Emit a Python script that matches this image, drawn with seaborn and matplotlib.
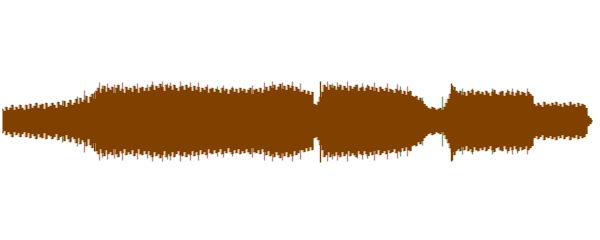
import numpy as np
import pandas as pd
import matplotlib
matplotlib.use("Agg")
import matplotlib.pyplot as plt
import seaborn as sns

# Peak amplitude of the mix, one value every 2 columns
env_amp = [12, 10, 14, 11, 13, 16, 11, 14, 12, 16, 13, 11,
           16, 12, 17, 13, 15, 18, 13, 16, 17, 12, 18, 14,
           15, 18, 16, 13, 19, 16, 15, 20, 14, 18, 21, 16,
           18, 22, 17, 23, 19, 21, 25, 18, 24, 27, 22, 30,
           33, 28, 32, 35, 29, 33, 31, 34, 28, 33, 36, 30,
           32, 28, 34, 31, 33, 29, 35, 32, 28, 33, 34, 30,
           33, 30, 34, 36, 31, 35, 33, 37, 34, 30, 36, 33,
           35, 31, 36, 33, 30, 34, 35, 31, 36, 33, 34, 30,
           35, 31, 34, 29, 33, 31, 34, 28, 32, 33, 29, 32,
           31, 28, 33, 30, 32, 27, 31, 33, 29, 32, 28, 33,
           30, 32, 28, 31, 33, 27, 31, 32, 29, 33, 28, 31,
           34, 30, 35, 33, 36, 31, 34, 37, 32, 35, 31, 36,
           33, 35, 30, 34, 32, 29, 29, 31, 27, 30, 26, 29,
           17, 16, 19, 24, 29, 36, 34, 31, 36, 33, 35, 31,
           34, 36, 31, 35, 33, 30, 35, 32, 34, 36, 30, 33,
           34, 30, 33, 35, 31, 34, 30, 33, 29, 34, 32, 30,
           33, 29, 32, 31, 28, 32, 30, 31, 27, 30, 26, 29,
           30, 25, 24, 25, 21, 23, 20, 17, 15, 13, 12, 14,
           13, 11, 12, 13, 11, 14, 18, 22, 27, 31, 34, 30,
           28, 30, 26, 29, 25, 30, 28, 31, 26, 29, 30, 27,
           29, 26, 30, 28, 25, 29, 31, 27, 26, 29, 30, 25,
           28, 30, 26, 29, 25, 28, 30, 26, 29, 28, 25, 29,
           27, 25, 17, 15, 18, 16, 14, 19, 16, 17, 15, 18,
           16, 19, 15, 17, 14, 18, 16, 15, 19, 16, 17, 14,
           18, 15, 17, 16, 13, 5, 3, 1]

# Isolated transients
spike_pos = [92, 318, 449, 450]
spike_up = [30, 41, 40, 39]
spike_down = [29, 40, 38, 36]

# Red channel peaks poking out of the mix
red_pos = [82, 97, 105, 112, 120, 135, 150, 160, 168, 178, 188, 196, 205, 221, 250, 262,
           270, 280, 290, 298, 325, 335, 345, 360, 372, 385, 395, 405, 510, 525]
red_amp = [31, 39, 38, 37, 39, 38, 40, 40, 39, 40, 39, 39, 37, 36, 36, 39,
           40, 39, 40, 38, 40, 39, 40, 38, 39, 38, 37, 35, 33, 33]

# Green channel peaks
green_pos = [60, 75, 100, 145, 165, 215, 230, 330, 355, 365, 398, 420, 440, 460, 470, 490, 505, 515]
green_amp = [21, 25, 36, 37, 38, 35, 35, 38, 37, 37, 35, 24, 25, 33, 33, 33, 32, 32]

BROWN = "#804000"
PINK = "#c48282"
GREEN = "#7fa07a"

sns.set_theme(style="white")

fig = plt.figure(figsize=(6, 2.4), dpi=100)
ax = fig.add_axes([0, 0, 1, 1])

pos = np.arange(len(env_amp)) * 2
df = pd.DataFrame({"pos": pos, "amp": env_amp})
df["neg"] = -df["amp"]

# channel peaks underneath the mix
ax.vlines(red_pos, [-a for a in red_amp], red_amp, color=PINK, linewidth=1.0, zorder=0)
ax.vlines(green_pos, [-a for a in green_amp], green_amp, color=GREEN, linewidth=1.0, zorder=0)

# main envelope
ax.fill_between(df["pos"], df["neg"], df["amp"], step="mid", color=BROWN, linewidth=0, zorder=1)
sns.lineplot(data=df, x="pos", y="amp", ax=ax, color=BROWN, drawstyle="steps-mid", linewidth=0.3, zorder=1)
sns.lineplot(data=df, x="pos", y="neg", ax=ax, color=BROWN, drawstyle="steps-mid", linewidth=0.3, zorder=1)
ax.vlines(spike_pos, [-d for d in spike_down], spike_up, color=BROWN, linewidth=1.0, zorder=1)

ax.set_xlim(-2, 598)
ax.set_ylim(-120.5, 119.5)
ax.invert_yaxis()
ax.set_axis_off()

fig.savefig("out.png", dpi=100)
